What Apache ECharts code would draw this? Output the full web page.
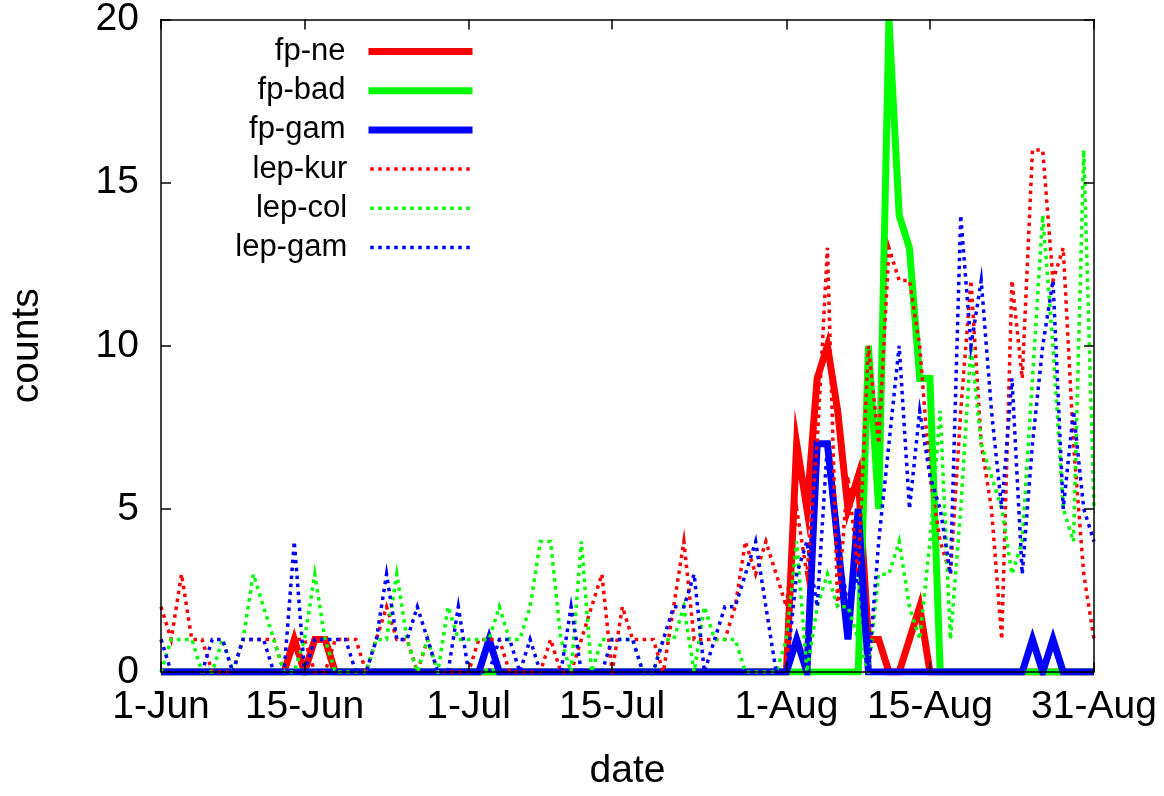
<!DOCTYPE html>
<html>
<head>
<meta charset="utf-8">
<script src="https://cdn.jsdelivr.net/npm/echarts@6/dist/echarts.min.js"></script>
<style>
html,body{margin:0;padding:0;background:#fff;}
#chart{width:1164px;height:796px;}
</style>
</head>
<body>
<div id="chart"></div>
<script>
// ---- data ----
const months = ['Jun', 'Jul', 'Aug'];
const monthDays = [30, 31, 31];
const tickLabels = ['1-Jun', '15-Jun', '1-Jul', '15-Jul', '1-Aug', '15-Aug', '31-Aug'];
const seriesNames = ['fp-ne', 'fp-bad', 'fp-gam', 'lep-kur', 'lep-col', 'lep-gam'];

const fp_ne = [
 0,0,0,0,0,0,0,0,0,0,
 0,0,0,1,0,1,1,0,0,0,
 0,0,0,0,0,0,0,0,0,0,
 0,0,0,0,0,0,0,0,0,0,
 0,0,0,0,0,0,0,0,0,0,
 0,0,0,0,0,0,0,0,0,0,
 0,0,7,5,9,10,8,5,6,1,
 1,0,0,1,2,0,0,0,0,0,
 0,0,0,0,0,0,0,0,0,0,
 0,0];
const fp_bad = [
 0,0,0,0,0,0,0,0,0,0,
 0,0,0,0,0,0,0,0,0,0,
 0,0,0,0,0,0,0,0,0,0,
 0,0,0,0,0,0,0,0,0,0,
 0,0,0,0,0,0,0,0,0,0,
 0,0,0,0,0,0,0,0,0,0,
 0,0,0,0,0,0,0,0,0,10,
 5,20,14,13,9,9,0,0,0,0,
 0,0,0,0,0,0,0,0,0,0,
 0,0];
const fp_gam = [
 0,0,0,0,0,0,0,0,0,0,
 0,0,0,0,0,0,0,0,0,0,
 0,0,0,0,0,0,0,0,0,0,
 0,0,1,0,0,0,0,0,0,0,
 0,0,0,0,0,0,0,0,0,0,
 0,0,0,0,0,0,0,0,0,0,
 0,0,1,0,7,7,4,1,5,0,
 0,0,0,0,0,0,0,0,0,0,
 0,0,0,0,0,1,0,1,0,0,
 0,0];
const lep_kur = [
 2,1,3,1,1,0,0,0,1,1,
 1,1,0,1,1,0,0,1,1,1,
 0,1,2,1,1,0,1,0,0,0,
 0,1,1,1,0,0,0,0,1,0,
 0,1,2,3,0,2,1,1,1,0,
 2,4,1,1,1,1,2,4,3,4,
 3,2,5,3,7,13,2,6,3,10,
 7,13,12,12,10,6,4,3,8,12,
 7,5,1,12,9,16,16,12,13,7,
 3,1];
const lep_col = [
 0,1,1,1,0,0,1,0,1,3,
 2,1,0,0,1,3,1,0,0,0,
 0,1,1,3,1,0,1,0,2,1,
 1,1,1,2,1,1,2,4,4,1,
 0,4,0,1,1,1,1,0,0,1,
 1,2,0,2,1,1,1,0,0,0,
 0,1,4,0,2,3,2,2,1,0,
 3,3,4,2,1,4,8,1,5,10,
 7,6,5,3,4,9,14,10,5,4,
 16,5];
const lep_gam = [
 1,0,0,0,0,1,1,0,1,1,
 1,0,0,4,0,1,1,1,1,0,
 0,1,3,1,1,2,1,0,0,2,
 0,0,0,1,1,0,1,0,0,0,
 2,0,0,0,1,1,1,0,0,1,
 2,2,3,0,1,2,2,3,4,2,
 0,0,3,4,2,7,4,2,3,0,
 4,7,10,5,8,6,5,3,14,10,
 12,8,5,9,3,7,10,12,5,8,
 5,4];

// ---- categories (one per day) ----
const dates = [];
months.forEach((m, mi) => { for (let d = 1; d <= monthDays[mi]; d++) dates.push(d + '-' + m); });
const tickSet = new Set(tickLabels);

const FONT = 'Liberation Sans';
const FS = 39;
const LFS = 31;

const chart = echarts.init(document.getElementById('chart'), null, {renderer: 'canvas'});

const seriesData = [fp_ne, fp_bad, fp_gam, lep_kur, lep_col, lep_gam];
const colors = ['#ff0000', '#00ff00', '#0000ff', '#ff0000', '#00ff00', '#0000ff'];
const solidW = 7, dotW = 3.5, dotDash = [3.5, 4.5];
const series = seriesNames.map((name, i) => ({
  name: name,
  type: 'line',
  data: seriesData[i],
  symbol: 'none',
  showSymbol: false,
  color: colors[i],
  lineStyle: i < 3
    ? {color: colors[i], width: solidW, type: 'solid', join: 'miter', cap: 'butt'}
    : {color: colors[i], width: dotW, type: dotDash, join: 'miter', cap: 'butt'},
  z: 2 + i,
  animation: false
}));

const legends = seriesNames.map((name, i) => ({
  data: [name],
  orient: 'vertical',
  right: 1164 - 476,
  top: 36 + i * 39.2,
  align: 'right',
  itemWidth: 104,
  itemHeight: 14,
  padding: 0,
  selectedMode: false,
  itemStyle: {opacity: 0},
  lineStyle: i < 3
    ? {width: solidW, color: colors[i], type: 'solid', cap: 'butt'}
    : {width: dotW, color: colors[i], type: dotDash, cap: 'butt'},
  textStyle: {fontSize: LFS, fontFamily: FONT, color: '#000', padding: [0, 18, 0, 0]}
}));

const commonX = {
  type: 'category',
  data: dates,
  boundaryGap: false,
  z: 10,
  axisLine: {show: true, onZero: false, lineStyle: {color: '#000', width: 1.5}},
  axisTick: {show: true, inside: true, length: 10, interval: (idx, val) => tickSet.has(val), lineStyle: {color: '#000', width: 1.5}},
  splitLine: {show: false}
};
const commonY = {
  type: 'value',
  min: 0, max: 20, interval: 5,
  z: 10,
  axisLine: {show: true, lineStyle: {color: '#000', width: 1.5}},
  axisTick: {show: true, inside: true, length: 10, lineStyle: {color: '#000', width: 1.5}},
  splitLine: {show: false}
};

chart.setOption({
  backgroundColor: '#fff',
  animation: false,
  grid: {left: 160, right: 70, top: 19, bottom: 116, containLabel: false},
  legend: legends,
  xAxis: [
    Object.assign({}, commonX, {
      position: 'bottom',
      axisLabel: {show: true, interval: (idx, val) => tickSet.has(val), fontSize: FS, fontFamily: FONT, color: '#000', margin: 16},
      name: 'date', nameLocation: 'middle', nameGap: 80,
      nameTextStyle: {fontSize: FS, fontFamily: FONT, color: '#000'}
    }),
    Object.assign({}, commonX, {position: 'top', axisLabel: {show: false}})
  ],
  yAxis: [
    Object.assign({}, commonY, {
      position: 'left',
      axisLabel: {show: true, fontSize: FS, fontFamily: FONT, color: '#000', margin: 22},
      name: 'counts', nameLocation: 'middle', nameGap: 114, nameRotate: 90,
      nameTextStyle: {fontSize: FS, fontFamily: FONT, color: '#000'}
    }),
    Object.assign({}, commonY, {position: 'right', axisLabel: {show: false}})
  ],
  series: series
});
</script>
</body>
</html>
